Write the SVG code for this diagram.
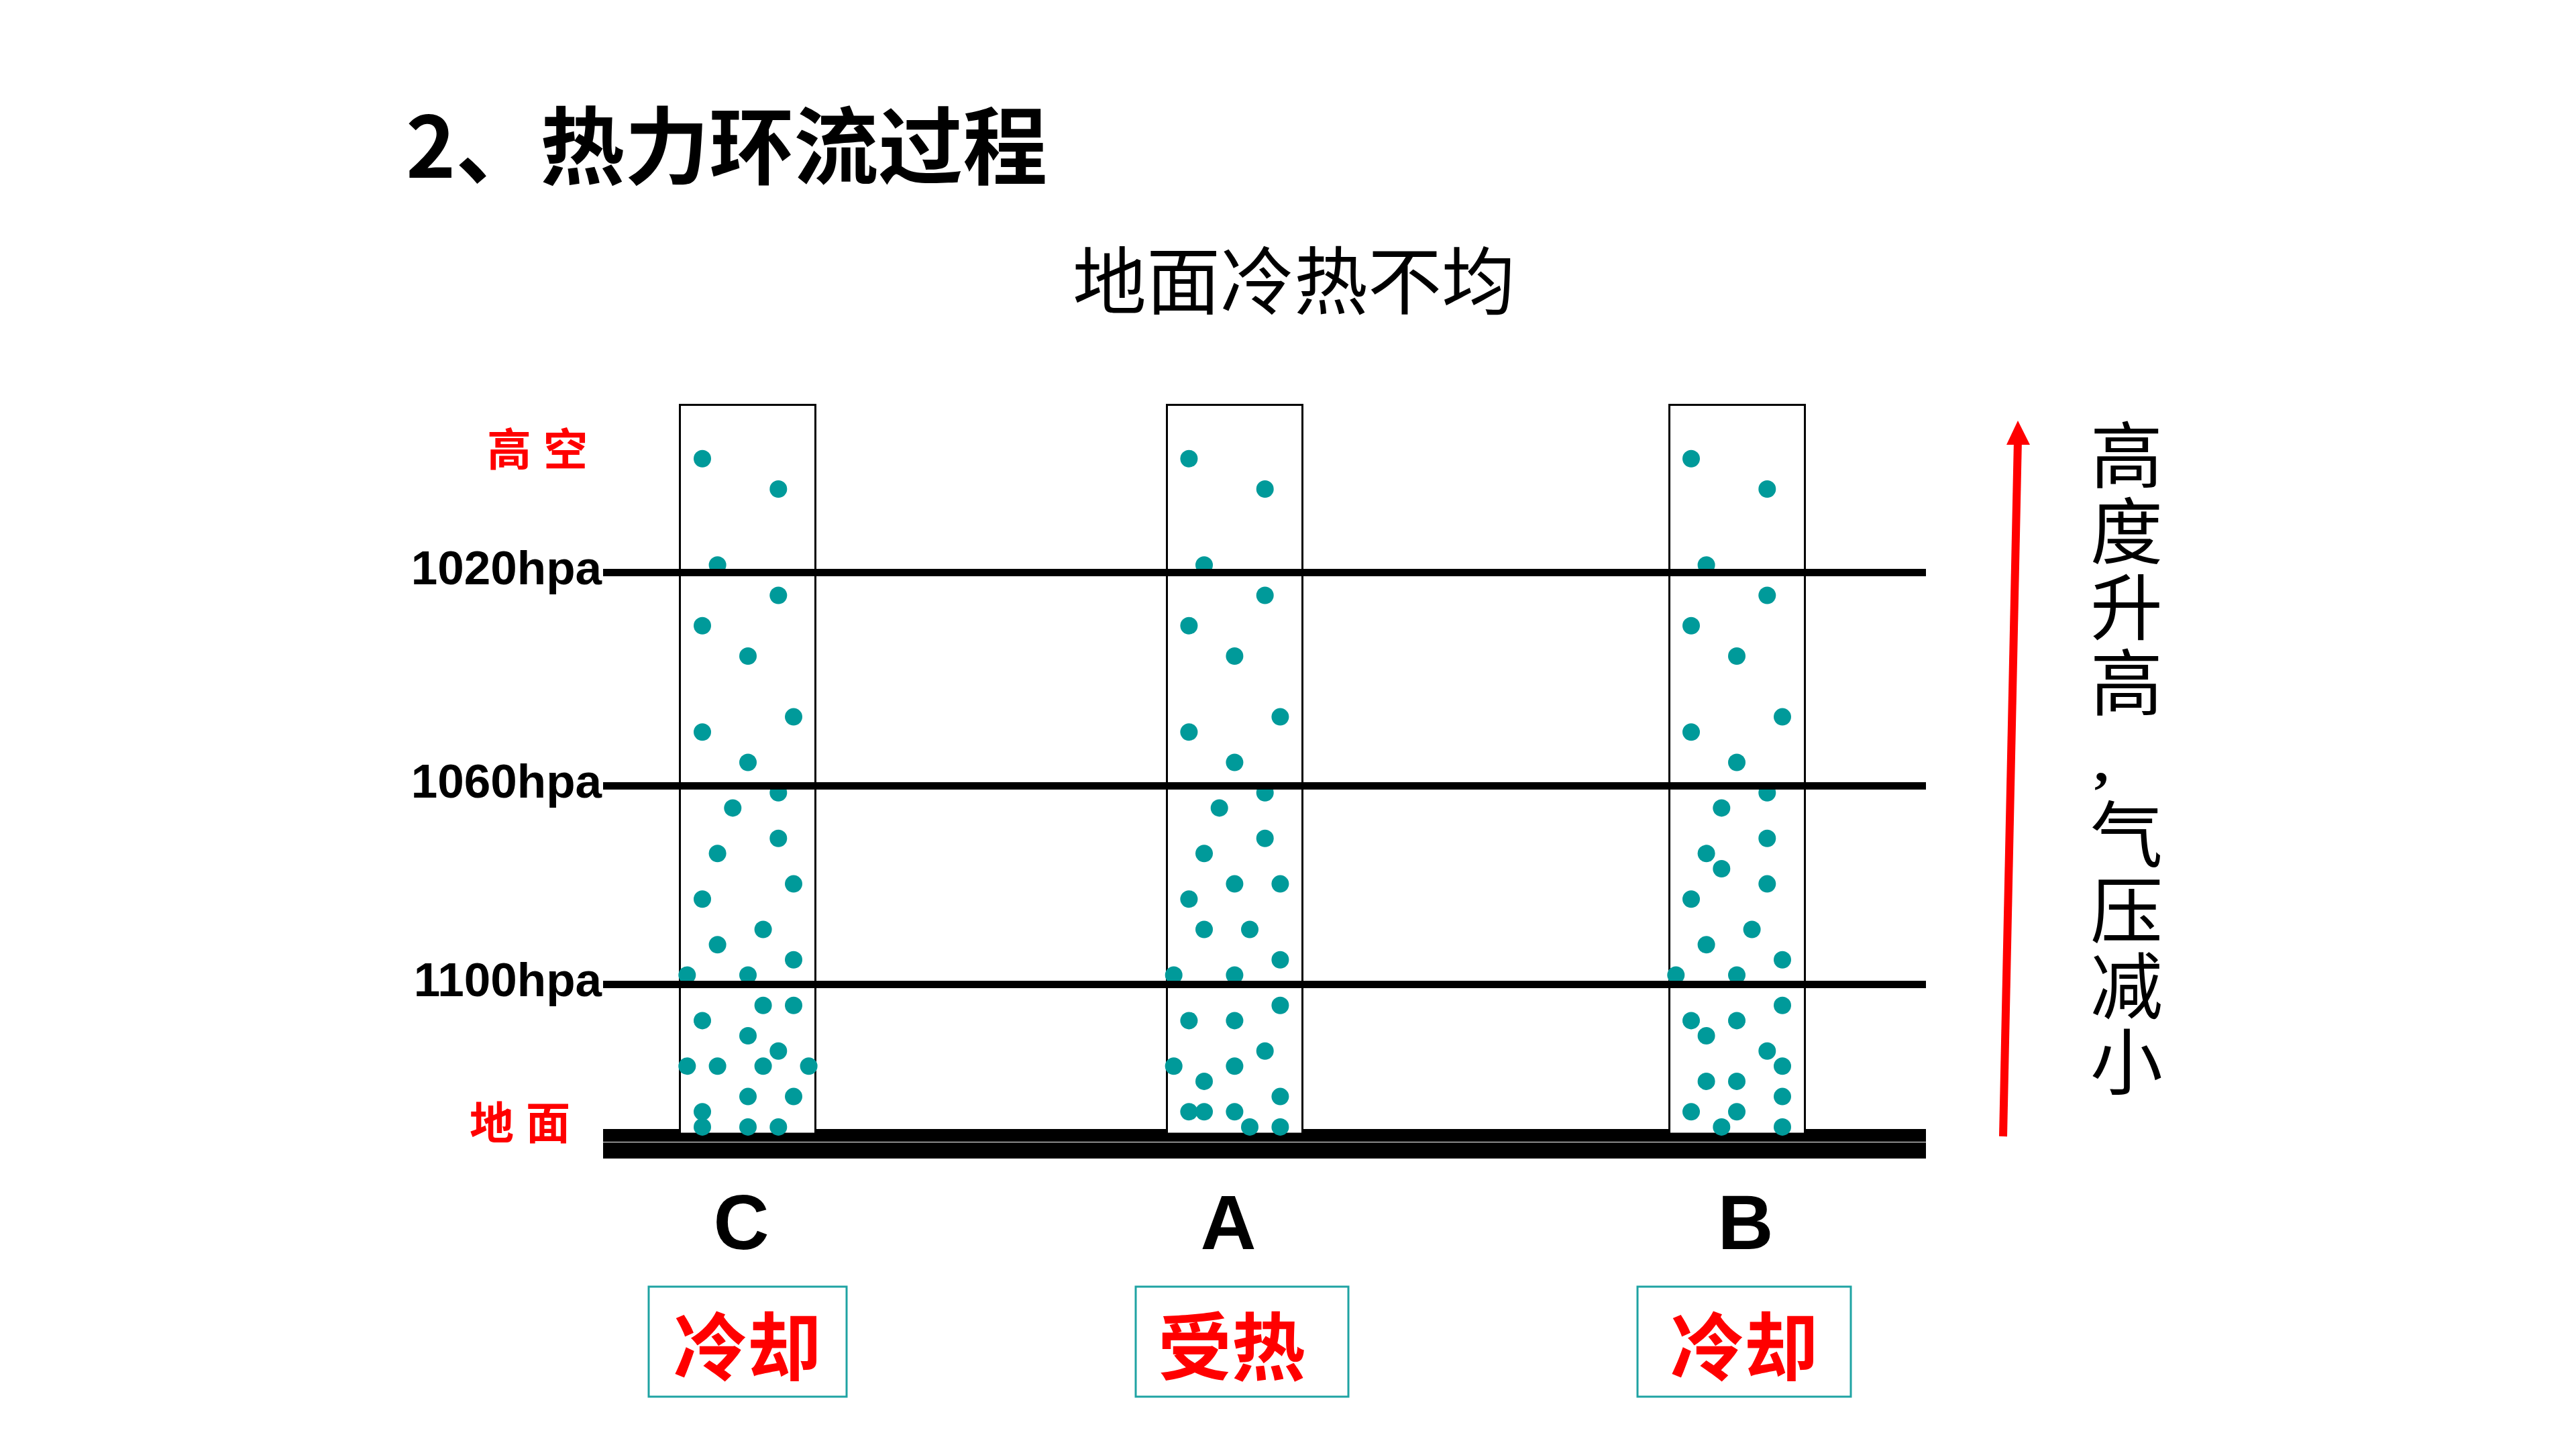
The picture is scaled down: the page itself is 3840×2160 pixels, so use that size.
<svg xmlns="http://www.w3.org/2000/svg" xmlns:xlink="http://www.w3.org/1999/xlink" width="3840" height="2160" viewBox="0 0 3840 2160">
<style>
.cjk{font-family:"Noto Sans CJK SC","Noto Sans",sans-serif}
.lat{font-family:"Liberation Sans",Arial,sans-serif;font-weight:700}
.col{fill:#fff;stroke:#000;stroke-width:3}
.d{fill:#009a9a}
.pl{stroke:#000;stroke-width:11;fill:none}
.lb{fill:#fff;stroke:#1fa3a3;stroke-width:3}
.red{fill:#ff0000}
.vt{writing-mode:vertical-rl}
</style>
<defs>
<circle id="d" r="13" class="d"/>
</defs>
<rect width="3840" height="2160" fill="#fff"/>

<g id="title">
<text class="cjk" x="605" y="265" font-size="126" font-weight="700" fill="#000">2、热力环流过程</text>
</g>
<g id="subtitle">
<text class="cjk" x="1929" y="460" font-size="110" font-weight="400" text-anchor="middle" fill="#000">地面冷热不均</text>
</g>

<g id="ground">
<rect x="899" y="1683" width="1972" height="19" fill="#000"/>
<rect x="899" y="1703" width="1972" height="24" fill="#000"/>
</g>

<g id="column-C">
<rect class="col" x="1013.5" y="603.5" width="202" height="1086.5"/>
<g transform="translate(1024.3,683.7)">
<use href="#d" x="22.7" y="0"/><use href="#d" x="136" y="45.3"/><use href="#d" x="45.3" y="158.5"/><use href="#d" x="136" y="203.8"/>
<use href="#d" x="22.7" y="249"/><use href="#d" x="90.7" y="294.3"/><use href="#d" x="158.7" y="384.9"/><use href="#d" x="22.7" y="407.5"/>
<use href="#d" x="90.7" y="452.8"/><use href="#d" x="136" y="498.1"/><use href="#d" x="68" y="520.7"/><use href="#d" x="136" y="566"/>
<use href="#d" x="45.3" y="588.6"/><use href="#d" x="158.7" y="633.9"/><use href="#d" x="22.7" y="656.6"/><use href="#d" x="113.3" y="701.8"/>
<use href="#d" x="45.3" y="724.5"/><use href="#d" x="158.7" y="747.1"/><use href="#d" x="0" y="769.8"/><use href="#d" x="90.7" y="769.8"/>
<use href="#d" x="113.3" y="815"/><use href="#d" x="158.7" y="815"/><use href="#d" x="22.7" y="837.7"/><use href="#d" x="90.7" y="860.3"/>
<use href="#d" x="136" y="883"/><use href="#d" x="0" y="905.6"/><use href="#d" x="45.3" y="905.6"/><use href="#d" x="113.3" y="905.6"/>
<use href="#d" x="181.3" y="905.6"/><use href="#d" x="90.7" y="950.9"/><use href="#d" x="158.7" y="950.9"/><use href="#d" x="22.7" y="973.5"/>
<use href="#d" x="22.7" y="996.2"/><use href="#d" x="90.7" y="996.2"/><use href="#d" x="136" y="996.2"/>
</g>
</g>

<g id="column-A">
<rect class="col" x="1739.5" y="603.5" width="202" height="1086.5"/>
<g transform="translate(1749.7,683.7)">
<use href="#d" x="22.7" y="0"/><use href="#d" x="136" y="45.3"/><use href="#d" x="45.3" y="158.5"/><use href="#d" x="136" y="203.8"/>
<use href="#d" x="22.7" y="249"/><use href="#d" x="90.7" y="294.3"/><use href="#d" x="158.7" y="384.9"/><use href="#d" x="22.7" y="407.5"/>
<use href="#d" x="90.7" y="452.8"/><use href="#d" x="136" y="498.1"/><use href="#d" x="68" y="520.7"/><use href="#d" x="136" y="566"/>
<use href="#d" x="45.3" y="588.6"/><use href="#d" x="90.7" y="633.9"/><use href="#d" x="158.7" y="633.9"/><use href="#d" x="22.7" y="656.6"/>
<use href="#d" x="45.3" y="701.8"/><use href="#d" x="113.3" y="701.8"/><use href="#d" x="158.7" y="747.1"/><use href="#d" x="0" y="769.8"/>
<use href="#d" x="90.7" y="769.8"/><use href="#d" x="158.7" y="815"/><use href="#d" x="22.7" y="837.7"/><use href="#d" x="90.7" y="837.7"/>
<use href="#d" x="136" y="883"/><use href="#d" x="0" y="905.6"/><use href="#d" x="90.7" y="905.6"/><use href="#d" x="45.3" y="928.2"/>
<use href="#d" x="158.7" y="950.9"/><use href="#d" x="22.7" y="973.5"/><use href="#d" x="45.3" y="973.5"/><use href="#d" x="90.7" y="973.5"/>
<use href="#d" x="113.3" y="996.2"/><use href="#d" x="158.7" y="996.2"/>
</g>
</g>

<g id="column-B">
<rect class="col" x="2488.5" y="603.5" width="202" height="1086.5"/>
<g transform="translate(2498.3,683.7)">
<use href="#d" x="22.7" y="0"/><use href="#d" x="136" y="45.3"/><use href="#d" x="45.3" y="158.5"/><use href="#d" x="136" y="203.8"/>
<use href="#d" x="22.7" y="249"/><use href="#d" x="90.7" y="294.3"/><use href="#d" x="158.7" y="384.9"/><use href="#d" x="22.7" y="407.5"/>
<use href="#d" x="90.7" y="452.8"/><use href="#d" x="136" y="498.1"/><use href="#d" x="68" y="520.7"/><use href="#d" x="136" y="566"/>
<use href="#d" x="45.3" y="588.6"/><use href="#d" x="68" y="611.3"/><use href="#d" x="136" y="633.9"/><use href="#d" x="22.7" y="656.6"/>
<use href="#d" x="113.3" y="701.8"/><use href="#d" x="45.3" y="724.5"/><use href="#d" x="158.7" y="747.1"/><use href="#d" x="0" y="769.8"/>
<use href="#d" x="90.7" y="769.8"/><use href="#d" x="158.7" y="815"/><use href="#d" x="22.7" y="837.7"/><use href="#d" x="90.7" y="837.7"/>
<use href="#d" x="45.3" y="860.3"/><use href="#d" x="136" y="883"/><use href="#d" x="158.7" y="905.6"/><use href="#d" x="45.3" y="928.2"/>
<use href="#d" x="90.7" y="928.2"/><use href="#d" x="158.7" y="950.9"/><use href="#d" x="22.7" y="973.5"/><use href="#d" x="90.7" y="973.5"/>
<use href="#d" x="68" y="996.2"/><use href="#d" x="158.7" y="996.2"/>
</g>
</g>

<g id="pressure-lines">
<line class="pl" x1="899" y1="853.5" x2="2871" y2="853.5"/>
<line class="pl" x1="899" y1="1171.5" x2="2871" y2="1171.5"/>
<line class="pl" x1="899" y1="1467.5" x2="2871" y2="1467.5"/>
</g>

<g id="axis-labels">
<text class="cjk red" x="810" y="694" font-size="66" font-weight="700" text-anchor="middle" letter-spacing="18">高空</text>
<text class="lat" x="897" y="871" font-size="71" text-anchor="end">1020hpa</text>
<text class="lat" x="897" y="1189" font-size="71" text-anchor="end">1060hpa</text>
<text class="lat" x="897" y="1485" font-size="71" text-anchor="end">1100hpa</text>
<text class="cjk red" x="784" y="1698" font-size="66" font-weight="700" text-anchor="middle" letter-spacing="18">地面</text>
</g>

<g id="letters">
<text class="lat" x="1105" y="1862" font-size="115" text-anchor="middle">C</text>
<text class="lat" x="1831" y="1862" font-size="115" text-anchor="middle">A</text>
<text class="lat" x="2602" y="1862" font-size="115" text-anchor="middle">B</text>
</g>

<g id="label-C">
<rect class="lb" x="967" y="1918" width="295" height="164"/>
<text class="cjk red" x="1114" y="2049" font-size="110" font-weight="700" text-anchor="middle">冷却</text>
</g>
<g id="label-A">
<rect class="lb" x="1693" y="1918" width="317" height="164"/>
<text class="cjk red" x="1836" y="2049" font-size="110" font-weight="700" text-anchor="middle">受热</text>
</g>
<g id="label-B">
<rect class="lb" x="2441" y="1918" width="318" height="164"/>
<text class="cjk red" x="2600" y="2049" font-size="110" font-weight="700" text-anchor="middle">冷却</text>
</g>

<g id="connectors">
<line x1="2986" y1="1694" x2="3008" y2="655" stroke="#ff0000" stroke-width="12"/>
<polygon points="3008,627 3026,663 2991,663" fill="#ff0000"/>
</g>

<g id="vertical-text" fill="#000">
<text class="cjk vt" x="3170" y="624" font-size="108" letter-spacing="5">高度升高</text>
<text x="3122" y="1164" font-family="'Liberation Serif',serif" font-weight="700" font-size="85">,</text>
<text class="cjk vt" x="3170" y="1189" font-size="108" letter-spacing="5">气压减小</text>
</g>
</svg>
